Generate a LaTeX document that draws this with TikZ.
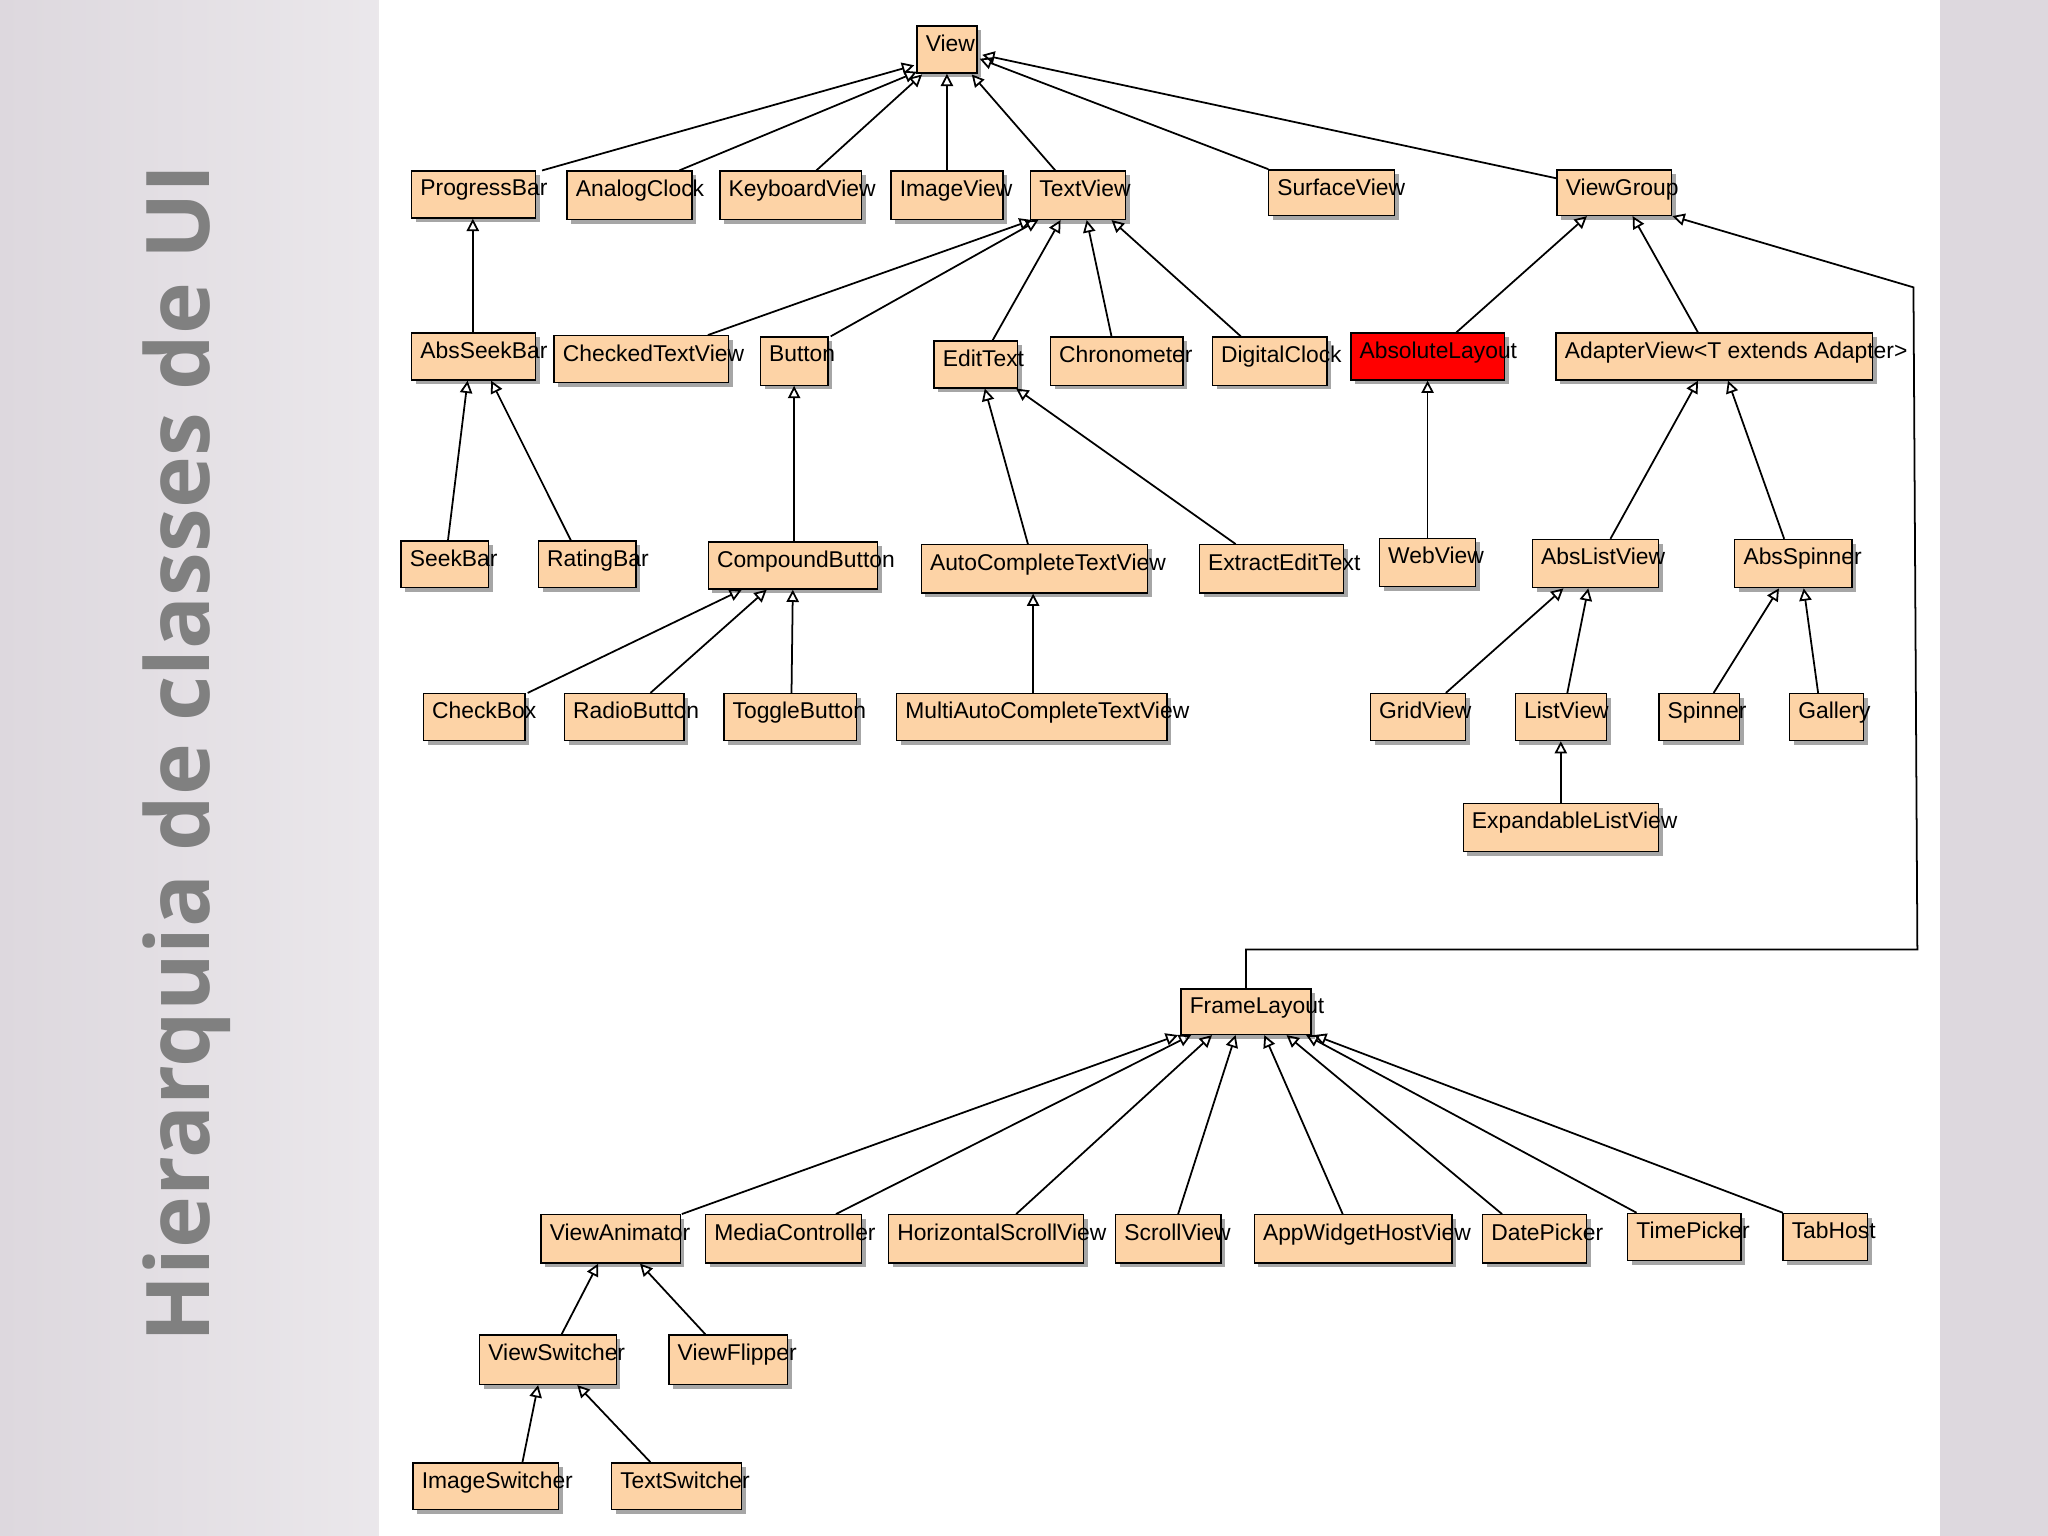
\documentclass[tikz,border=0pt]{standalone}
\usepackage{fontspec}
\setmainfont{Liberation Sans}
\newfontfamily\titlefont{Open Sans}
\usetikzlibrary{arrows.meta,shadows}
\definecolor{boxfill}{HTML}{FDD3A6}
\definecolor{sidegray}{HTML}{DDD8DE}
\newcommand\bx[6][boxfill]{\node[box,fill=#1,minimum width={(#5-#3)*0.3703pt},minimum height={(#6-#4)*0.3703pt}] (#2) at ({(#3+#5)/2},{(#4+#6)/2}) {\phantom{g}};}
\newcommand\lb[2]{\node[font=\fontsize{6.5}{7}\selectfont,anchor=north west,inner sep=0pt] at ([xshift=2.5pt,yshift=-2.5pt]#1.north west) {#2};}
\newcommand\inh[4]{\draw[inh] (#1.north -| #2,0) -- (#3.south -| #4,0);}
\begin{document}
\begin{tikzpicture}[x=0.01306cm,y=-0.01306cm,
  box/.style={draw=black,line width=0.4pt,inner sep=0pt,drop shadow={shadow xshift=1.2pt,shadow yshift=-1.2pt,fill=black!35,opacity=1}},
  inh/.style={draw=black,line width=0.5pt,-{Triangle[open,length=3.5pt,width=3.5pt]}}]
\useasboundingbox (0,0) rectangle (1568,1176);
\fill[left color=sidegray,right color=sidegray!60!white] (0,0) rectangle (290,1176);
\fill[sidegray] (1485,0) rectangle (1568,1176);
\node[rotate=90,font=\titlefont\bfseries\fontsize{25}{30}\selectfont,text=black!50] (title) at (143,577) {Hierarquia de classes de UI};
\bx{View}{702}{20}{748}{56}\lb{View}{View}
\bx{PB}{315}{131}{410}{167}\lb{PB}{ProgressBar}
\bx{AC}{434}{131}{530}{168}\lb{AC}{AnalogClock}
\bx{KV}{551}{131}{660}{168}\lb{KV}{KeyboardView}
\bx{IV}{682}{131}{768}{168}\lb{IV}{ImageView}
\bx{TV}{789}{131}{862}{168}\lb{TV}{TextView}
\bx{SV}{971}{130}{1068}{165}\lb{SV}{SurfaceView}
\bx{VG}{1192}{130}{1280}{165}\lb{VG}{ViewGroup}
\bx{ASB}{315}{255}{410}{291}\lb{ASB}{AbsSeekBar}
\bx{CTV}{424}{257}{558}{293}\lb{CTV}{CheckedTextView}
\bx{Btn}{582}{258}{634}{295}\lb{Btn}{Button}
\bx{ET}{715}{261}{779}{297}\lb{ET}{EditText}
\bx{Chr}{804}{258}{906}{295}\lb{Chr}{Chronometer}
\bx{DC}{928}{258}{1016}{295}\lb{DC}{DigitalClock}
\bx[red]{AL}{1034}{255}{1152}{291}\lb{AL}{AbsoluteLayout}
\bx{AV}{1191}{255}{1434}{291}\lb{AV}{AdapterView<T extends Adapter>}
\bx{SB}{307}{414}{374}{450}\lb{SB}{SeekBar}
\bx{RB}{412}{414}{487}{450}\lb{RB}{RatingBar}
\bx{CB}{542}{415}{672}{451}\lb{CB}{CompoundButton}
\bx{ACT}{705}{417}{879}{454}\lb{ACT}{AutoCompleteTextView}
\bx{EET}{918}{417}{1029}{454}\lb{EET}{ExtractEditText}
\bx{WV}{1056}{412}{1130}{449}\lb{WV}{WebView}
\bx{ALV}{1173}{413}{1270}{450}\lb{ALV}{AbsListView}
\bx{ASp}{1328}{413}{1418}{450}\lb{ASp}{AbsSpinner}
\bx{ChB}{324}{531}{402}{567}\lb{ChB}{CheckBox}
\bx{RdB}{432}{531}{524}{567}\lb{RdB}{RadioButton}
\bx{TgB}{554}{531}{656}{567}\lb{TgB}{ToggleButton}
\bx{MAC}{686}{531}{894}{567}\lb{MAC}{MultiAutoCompleteTextView}
\bx{GV}{1049}{531}{1122}{567}\lb{GV}{GridView}
\bx{LV}{1160}{531}{1230}{567}\lb{LV}{ListView}
\bx{Sp}{1270}{531}{1332}{567}\lb{Sp}{Spinner}
\bx{Ga}{1370}{531}{1427}{567}\lb{Ga}{Gallery}
\bx{ELV}{1120}{615}{1270}{652}\lb{ELV}{ExpandableListView}
\bx{FL}{904}{757}{1004}{792}\lb{FL}{FrameLayout}
\bx{VA}{414}{930}{521}{967}\lb{VA}{ViewAnimator}
\bx{MC}{540}{930}{660}{967}\lb{MC}{MediaController}
\bx{HSV}{680}{930}{830}{967}\lb{HSV}{HorizontalScrollView}
\bx{ScV}{854}{930}{935}{967}\lb{ScV}{ScrollView}
\bx{AWH}{960}{930}{1112}{967}\lb{AWH}{AppWidgetHostView}
\bx{DP}{1135}{930}{1215}{967}\lb{DP}{DatePicker}
\bx{TP}{1246}{929}{1333}{965}\lb{TP}{TimePicker}
\bx{TH}{1365}{929}{1430}{965}\lb{TH}{TabHost}
\bx{VS}{367}{1022}{472}{1060}\lb{VS}{ViewSwitcher}
\bx{VF}{512}{1022}{603}{1060}\lb{VF}{ViewFlipper}
\bx{IS}{316}{1120}{428}{1156}\lb{IS}{ImageSwitcher}
\bx{TS}{468}{1120}{568}{1156}\lb{TS}{TextSwitcher}
% edges
\draw[inh] (PB.north -| 415,0) -- (700,50);
\draw[inh] (AC.north -| 520,0) -- (702,55);
\draw[inh] (KV.north -| 625,0) -- (706,57);
\inh{IV}{725}{View}{725}
\draw[inh] (TV.north -| 808,0) -- (744,57);
\draw[inh] (SV.north -| 971,0) -- (750,45);
\draw[inh] (VG.north west) ++(0,7) -- (752,42);
\inh{ASB}{362}{PB}{362}
\inh{SB}{343}{ASB}{358}
\inh{RB}{437}{ASB}{376}
\inh{CTV}{542}{TV}{790}
\inh{Btn}{636}{TV}{795}
\inh{ET}{760}{TV}{812}
\inh{Chr}{851}{TV}{832}
\inh{DC}{950}{TV}{851}
\inh{CB}{608}{Btn}{608}
\inh{ChB}{404}{CB}{568}
\inh{RdB}{498}{CB}{587}
\inh{TgB}{606}{CB}{607}
\inh{ACT}{787}{ET}{754}
\inh{EET}{946}{ET}{778}
\inh{MAC}{791}{ACT}{791}
\inh{AL}{1115}{VG}{1215}
\inh{AV}{1300}{VG}{1250}
\draw[inh] (FL.north) -- (954,727) -- (1468,727) -- (1465,220) -- (VG.south east);
\inh{WV}{1093}{AL}{1093}
\inh{ALV}{1233}{AV}{1300}
\inh{ASp}{1366}{AV}{1323}
\inh{GV}{1107}{ALV}{1197}
\inh{LV}{1200}{ALV}{1216}
\inh{Sp}{1312}{ASp}{1362}
\inh{Ga}{1392}{ASp}{1381}
\inh{ELV}{1195}{LV}{1195}
\inh{VA}{522}{FL}{902}
\inh{MC}{640}{FL}{912}
\inh{HSV}{778}{FL}{928}
\inh{ScV}{902}{FL}{946}
\inh{AWH}{1028}{FL}{968}
\inh{DP}{1150}{FL}{985}
\inh{TP}{1253}{FL}{1000}
\inh{TH}{1365}{FL}{1006}
\inh{VS}{430}{VA}{458}
\inh{VF}{540}{VA}{490}
\inh{IS}{400}{VS}{412}
\inh{TS}{498}{VS}{442}
\end{tikzpicture}
\end{document}
